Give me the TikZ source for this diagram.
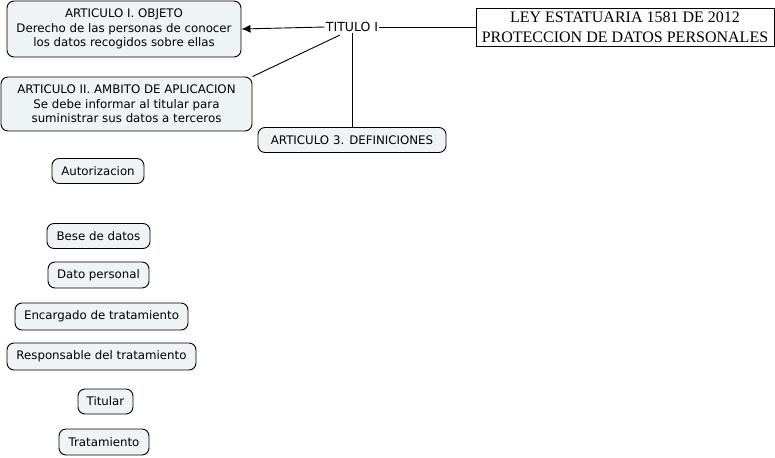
\documentclass[tikz,border=0pt]{standalone}
\usepackage{fontspec}
\setmainfont{DejaVu Sans}
\newfontfamily\serifont{Liberation Serif}
\usetikzlibrary{arrows.meta}
\definecolor{boxfill}{RGB}{238,243,245}
\begin{document}
\begin{tikzpicture}[x=1pt,y=-1pt,
  cbox/.style={draw=black, line width=0.9pt, fill=boxfill, rounded corners=7pt, align=center, font=\fontsize{11.8}{14.5}\selectfont, inner sep=0pt},
  link/.style={draw=black, line width=0.9pt}]
\useasboundingbox (0,0) rectangle (775,457);
\node[cbox, minimum width=234pt, minimum height=56pt] (a1) at (124,29) {ARTICULO I. OBJETO\\Derecho de las personas de conocer\\los datos recogidos sobre ellas};
\node[cbox, minimum width=251pt, minimum height=54pt] (a2) at (126.5,104) {ARTICULO II. AMBITO DE APLICACION\\Se debe informar al titular para\\suministrar sus datos a terceros};
\node[cbox, minimum width=188pt, minimum height=25pt] (a3) at (352,140) {ARTICULO 3. DEFINICIONES};
\node[font=\fontsize{12.5}{12}\selectfont, inner sep=1pt] (tit) at (352,27) {TITULO I};
\node[draw=black, line width=0.9pt, align=center, font=\serifont\fontsize{16}{20}\selectfont, minimum width=298pt, minimum height=38pt, inner sep=0pt] (ley) at (625,27) {LEY ESTATUARIA 1581 DE 2012\\PROTECCION DE DATOS PERSONALES};
\node[cbox, minimum width=92pt, minimum height=25pt] (d1) at (98,171) {Autorizacion};
\node[cbox, minimum width=103pt, minimum height=25pt] (d2) at (98.5,236) {Bese de datos};
\node[cbox, minimum width=101pt, minimum height=26pt] (d3) at (98.5,275) {Dato personal};
\node[cbox, minimum width=173pt, minimum height=27pt] (d4) at (101.5,316.5) {Encargado de tratamiento};
\node[cbox, minimum width=189pt, minimum height=27pt] (d5) at (101.5,356.5) {Responsable del tratamiento};
\node[cbox, minimum width=55pt, minimum height=25pt] (d6) at (105.5,401.5) {Titular};
\node[cbox, minimum width=90pt, minimum height=26pt] (d7) at (104,442) {Tratamiento};
\draw[link] (ley.west) -- (tit.east);
\draw[link, -{Latex[length=9pt,width=8pt]}] (tit.west) -- (a1.east);
\coordinate (tsw) at (340,35);
\draw[link] (tsw) -- (a2.north east);
\draw[link] (tit.south) -- (a3.north);
\end{tikzpicture}
\end{document}
